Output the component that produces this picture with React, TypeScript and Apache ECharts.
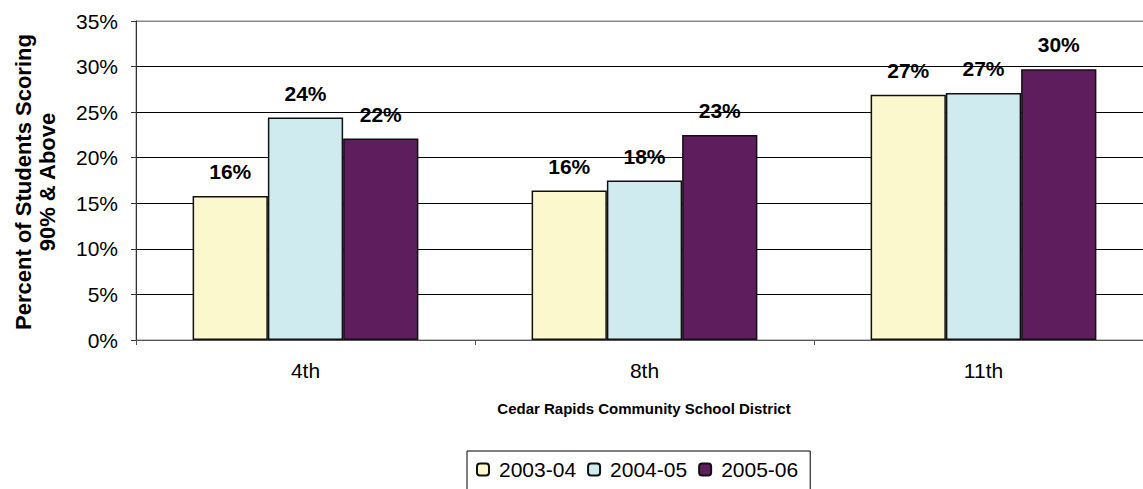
import React, { useEffect, useRef } from "react";
import * as echarts from "echarts";

const categories = ["4th", "8th", "11th"];
const seriesNames = ["2003-04", "2004-05", "2005-06"];
const values2003 = [15.8, 16.4, 26.9];
const values2004 = [24.4, 17.5, 27.1];
const values2005 = [22.1, 22.5, 29.7];
const colors = ["#FBF8CE", "#D0EBF0", "#5E1E5E"];
const yTitle = "Percent of Students Scoring\n90% & Above";
const xTitle = "Cedar Rapids Community School District";

const FONT = "Arial, 'Liberation Sans', sans-serif";
const CHART_W = 1170;

export default function App() {
  const ref = useRef<HTMLDivElement>(null);
  useEffect(() => {
    if (!ref.current) return;
    const chart = echarts.init(ref.current, null, { renderer: "svg" });
    const data = [values2003, values2004, values2005];
    chart.setOption({
      animation: false,
      backgroundColor: "#fff",
      textStyle: { fontFamily: FONT },
      grid: { left: 136, top: 21, bottom: 149, right: CHART_W - 1153, show: true, borderColor: "#888", borderWidth: 1 },
      legend: {
        data: seriesNames,
        left: 467,
        top: 451,
        orient: "horizontal",
        itemWidth: 12,
        itemHeight: 12,
        itemGap: 11,
        padding: [8, 12, 40, 9],
        borderColor: "#000",
        borderWidth: 1,
        textStyle: { fontSize: 21, color: "#000", fontFamily: FONT, padding: [0, 0, 0, 5] },
      },
      xAxis: {
        type: "category",
        data: categories,
        axisLine: { show: true, lineStyle: { color: "#555", width: 1 } },
        axisTick: { show: true, length: 5, lineStyle: { color: "#555" } },
        axisLabel: { fontSize: 21, color: "#000", margin: 20, fontFamily: FONT },
        splitLine: { show: false },
      },
      yAxis: {
        type: "value",
        min: 0,
        max: 35,
        interval: 5,
        axisLine: { show: true, lineStyle: { color: "#333", width: 1 } },
        axisTick: { show: true, length: 5, inside: false, lineStyle: { color: "#333" } },
        axisLabel: { fontSize: 21, color: "#000", margin: 18, formatter: "{value}%", fontFamily: FONT },
        splitLine: {
          show: true,
          lineStyle: { color: ["#000", "#000", "#000", "#000", "#000", "#000", "#000", "#888"], width: 1 },
        },
      },
      series: seriesNames.map((name, i) => ({
        name,
        type: "bar",
        data: data[i],
        barWidth: "22.2%",
        barGap: "0%",
        itemStyle: { color: colors[i], borderColor: "#111", borderWidth: 1.5 },
        label: {
          show: true,
          position: "top",
          distance: 14,
          fontSize: 21,
          fontWeight: "bold",
          color: "#000",
          fontFamily: FONT,
          formatter: (p: any) => Math.round(p.value) + "%",
        },
      })),
      graphic: [
        {
          type: "text",
          x: 35,
          y: 182,
          rotation: Math.PI / 2,
          style: {
            text: yTitle,
            fontSize: 22,
            fontWeight: "bold",
            fill: "#000",
            fontFamily: FONT,
            textAlign: "center",
            textVerticalAlign: "middle",
            lineHeight: 24,
          },
        },
        {
          type: "text",
          x: 644,
          y: 408,
          style: {
            text: xTitle,
            fontSize: 15,
            fontWeight: "bold",
            fill: "#000",
            fontFamily: FONT,
            textAlign: "center",
            textVerticalAlign: "middle",
          },
        },
      ],
    });
    return () => chart.dispose();
  }, []);
  return (
    <div style={{ position: "fixed", left: 0, top: 0, width: 1143, height: 489, overflow: "hidden", background: "#fff" }}>
      <div ref={ref} style={{ width: CHART_W, height: 489 }} />
    </div>
  );
}
